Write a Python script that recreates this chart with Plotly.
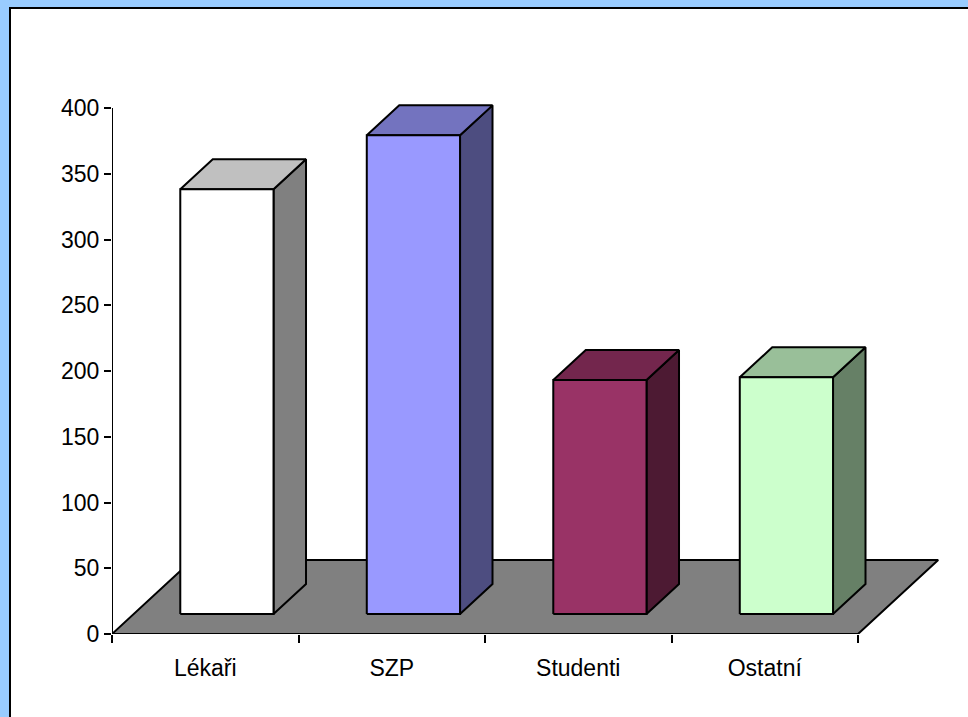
import plotly.graph_objects as go

# ---------------- data ----------------
categories = ["Lékaři", "SZP", "Studenti", "Ostatní"]
values = [323, 364, 178, 180]
front_colors = ["#FFFFFF", "#9999FF", "#993366", "#CCFFCC"]
top_colors = ["#C0C0C0", "#7373BF", "#73264D", "#99BF99"]
side_colors = ["#808080", "#4D4D80", "#4D1A33", "#668066"]
y_ticks = [0, 50, 100, 150, 200, 250, 300, 350, 400]
x_boundaries = [-0.5, 0.5, 1.5, 2.5, 3.5]

# ---------------- 3-D geometry (oblique projection) ----------------
FLOOR_DX = 0.43     # horizontal shift of full floor depth, in category units
FLOOR_DY = 56.3     # vertical shift of full floor depth, in value units
BAR_D0, BAR_D1 = 0.27, 0.675   # bar front / back depth (fraction of floor depth)
BAR_HALF = 0.25     # half bar width, category units

FONT = "Liberation Sans, Arial, sans-serif"
FRAME_BLUE = "#99CCFF"


def proj(x, v, d):
    return x + d * FLOOR_DX, v + d * FLOOR_DY


def face(pts, fill, lw=2):
    xs, ys = zip(*[proj(*p) for p in pts])
    xs = list(xs) + [xs[0]]
    ys = list(ys) + [ys[0]]
    return go.Scatter(x=xs, y=ys, mode="lines", fill="toself", fillcolor=fill,
                      line=dict(color="black", width=lw), hoverinfo="skip",
                      showlegend=False)


fig = go.Figure()

# floor
fig.add_trace(face([(-0.5, 0, 0), (3.5, 0, 0), (3.5, 0, 1), (-0.5, 0, 1)], "#808080"))

# bars
for i, v in enumerate(values):
    x0, x1 = i - BAR_HALF, i + BAR_HALF
    fig.add_trace(face([(x1, 0, BAR_D0), (x1, 0, BAR_D1), (x1, v, BAR_D1), (x1, v, BAR_D0)],
                       side_colors[i]))
    fig.add_trace(face([(x0, v, BAR_D0), (x1, v, BAR_D0), (x1, v, BAR_D1), (x0, v, BAR_D1)],
                       top_colors[i]))
    fig.add_trace(face([(x0, 0, BAR_D0), (x1, 0, BAR_D0), (x1, v, BAR_D0), (x0, v, BAR_D0)],
                       front_colors[i]))

# axis lines
fig.add_trace(go.Scatter(x=[-0.5, -0.5], y=[y_ticks[0], y_ticks[-1]], mode="lines",
                         line=dict(color="black", width=2), hoverinfo="skip", showlegend=False))
fig.add_trace(go.Scatter(x=[x_boundaries[0], x_boundaries[-1]], y=[0, 0], mode="lines",
                         line=dict(color="black", width=2), hoverinfo="skip", showlegend=False))

W, H = 968, 717
ML, MR, MT, MB = 112, 0, 20, 83
pw, ph = W - ML - MR, H - MT - MB
px_per_cat = 186.5
px_per_val = 1.315


def px_x(px):  # figure pixel -> paper x
    return (px - ML) / pw


def px_y(py):  # figure pixel (from top) -> paper y
    return (H - MB - py) / ph


frame_shapes = [
    # blue strips (left and top)
    dict(type="rect", xref="paper", yref="paper", layer="below",
         x0=px_x(-5), x1=px_x(10), y0=px_y(H + 5), y1=px_y(-5),
         fillcolor=FRAME_BLUE, line=dict(width=0)),
    dict(type="rect", xref="paper", yref="paper", layer="below",
         x0=px_x(-5), x1=px_x(W + 5), y0=px_y(8), y1=px_y(-5),
         fillcolor=FRAME_BLUE, line=dict(width=0)),
    # black border lines
    dict(type="line", xref="paper", yref="paper", layer="below",
         x0=px_x(10), x1=px_x(10), y0=px_y(H + 5), y1=px_y(7),
         line=dict(color="black", width=2)),
    dict(type="line", xref="paper", yref="paper", layer="below",
         x0=px_x(9), x1=px_x(W + 5), y0=px_y(8), y1=px_y(8),
         line=dict(color="black", width=2)),
]

fig.update_layout(
    width=W, height=H,
    margin=dict(l=ML, r=MR, t=MT, b=MB, pad=0),
    paper_bgcolor="white",
    plot_bgcolor="rgba(0,0,0,0)",
    font=dict(family=FONT, size=23, color="black"),
    showlegend=False,
    hovermode=False,
    xaxis=dict(range=[-0.5, -0.5 + pw / px_per_cat], tickvals=[0, 1, 2, 3],
               ticktext=categories, ticks="", showline=False, showgrid=False,
               zeroline=False, ticklabelstandoff=18, fixedrange=True),
    xaxis2=dict(range=[-0.5, -0.5 + pw / px_per_cat], overlaying="x", anchor="y",
                side="bottom", tickvals=x_boundaries, ticks="outside", ticklen=8,
                tickwidth=2, tickcolor="black", showticklabels=False, showline=False,
                showgrid=False, zeroline=False, fixedrange=True),
    yaxis=dict(range=[0, ph / px_per_val], tickvals=y_ticks, ticks="outside",
               ticklen=7, tickwidth=2, tickcolor="black", showline=False,
               showgrid=False, zeroline=False, fixedrange=True),
    shapes=frame_shapes,
)
# a dummy trace on xaxis2 so its ticks render
fig.add_trace(go.Scatter(x=[None], y=[None], xaxis="x2", yaxis="y", showlegend=False,
                         hoverinfo="skip"))

fig.write_html("out.html",
               config={"displayModeBar": False},
               post_script="document.body.style.margin='0';"
                           "document.body.style.overflow='hidden';"
                           "document.body.style.backgroundColor='white';")
